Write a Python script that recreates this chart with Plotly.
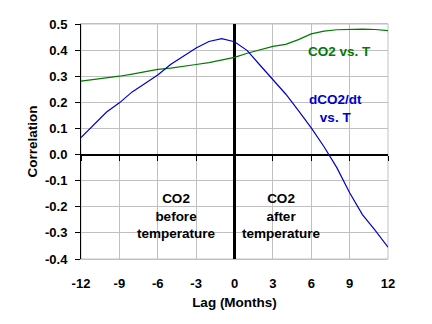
import plotly.graph_objects as go

# Lag in months (negative = CO2 leads temperature)
lag = list(range(-12, 13))

# Correlation of CO2 level with temperature
co2_vs_t = [0.281, 0.287, 0.293, 0.300, 0.308, 0.317, 0.326, 0.331, 0.337,
            0.345, 0.352, 0.361, 0.372, 0.388, 0.402, 0.414, 0.422, 0.440,
            0.462, 0.473, 0.478, 0.480, 0.480, 0.479, 0.475]

# Correlation of CO2 growth rate with temperature
dco2_vs_t = [0.065, 0.115, 0.163, 0.198, 0.240, 0.272, 0.305, 0.345, 0.376,
             0.408, 0.433, 0.444, 0.432, 0.398, 0.342, 0.288, 0.232, 0.168,
             0.102, 0.030, -0.050, -0.146, -0.230, -0.290, -0.355]

x_ticks = [-12, -9, -6, -3, 0, 3, 6, 9, 12]
x_tick_text = ["-12", "-9", "-6", "-3", "0", "3", "6", "9", "12"]
y_ticks = [0.5, 0.4, 0.3, 0.2, 0.1, 0.0, -0.1, -0.2, -0.3, -0.4]
y_tick_text = ["0.5", "0.4", "0.3", "0.2", "0.1", "0.0", "-0.1", "-0.2", "-0.3", "-0.4"]

GREEN = "#007a00"
BLUE = "#0000cc"
GRID = "#c0c0c0"
FONT = "Liberation Sans, Arial, sans-serif"

fig = go.Figure()
fig.add_trace(go.Scatter(x=lag, y=co2_vs_t, mode="lines",
                         line=dict(color=GREEN, width=1.2), showlegend=False))
fig.add_trace(go.Scatter(x=lag, y=dco2_vs_t, mode="lines",
                         line=dict(color=BLUE, width=1.2), showlegend=False))

# invisible trace carrying the axis that sits on the zero line (tick marks only)
fig.add_trace(go.Scatter(x=lag, y=dco2_vs_t, xaxis="x2", mode="lines",
                         line=dict(width=0), opacity=0, hoverinfo="skip",
                         showlegend=False))

y_min, y_max = -0.4, 0.5

fig.update_layout(
    width=432, height=324,
    margin=dict(l=81, r=44, t=24, b=65),
    paper_bgcolor="white", plot_bgcolor="white",
    font=dict(family=FONT, size=12, color="black"),
    xaxis=dict(
        range=[-12, 12], tickvals=x_ticks, ticktext=x_tick_text,
        showgrid=True, gridcolor=GRID, gridwidth=1,
        showline=True, linecolor=GRID, linewidth=1, mirror=True,
        ticks="", ticklabelstandoff=12,
        zeroline=True, zerolinecolor="black", zerolinewidth=2.5,
        tickfont=dict(family=FONT, size=13, weight="bold"),
        title=dict(text="<b>Lag (Months)</b>", standoff=7,
                   font=dict(family=FONT, size=13.5)),
    ),
    xaxis2=dict(
        range=[-12, 12], overlaying="x", anchor="free",
        position=(0 - y_min) / (y_max - y_min),
        tickvals=x_ticks, showticklabels=False, showgrid=False,
        ticks="outside", ticklen=5, tickcolor="black",
        showline=True, linecolor="black", linewidth=1, zeroline=False,
    ),
    yaxis=dict(
        range=[y_min, y_max], tickvals=y_ticks, ticktext=y_tick_text,
        showgrid=True, gridcolor=GRID, gridwidth=1,
        showline=True, linecolor="black", linewidth=1,
        ticks="outside", ticklen=5, tickcolor="black", ticklabelstandoff=5,
        zeroline=True, zerolinecolor="black", zerolinewidth=1,
        tickfont=dict(family=FONT, size=13, weight="bold"),
        title=dict(text="<b>Correlation</b>", standoff=4,
                   font=dict(family=FONT, size=13.5)),
    ),
    shapes=[dict(type="rect", xref="paper", yref="paper", x0=0, x1=1, y0=0, y1=1,
                 line=dict(color=GRID, width=1), layer="below")],
)

labels = [
    dict(x=8.2, y=0.396, text="CO2 vs. T", color=GREEN),
    dict(x=7.9, y=0.175, text="dCO2/dt<br>vs. T", color=BLUE),
    dict(x=-4.5, y=-0.234, text="CO2<br>before<br>temperature", color="black"),
    dict(x=3.7, y=-0.234, text="CO2<br>after<br>temperature", color="black"),
]
for lab in labels:
    fig.add_annotation(x=lab["x"], y=lab["y"], xref="x", yref="y",
                       text="<b>" + lab["text"] + "</b>", showarrow=False,
                       align="center",
                       font=dict(family=FONT, size=13.5, color=lab["color"]))

fig.write_html("out.html")
